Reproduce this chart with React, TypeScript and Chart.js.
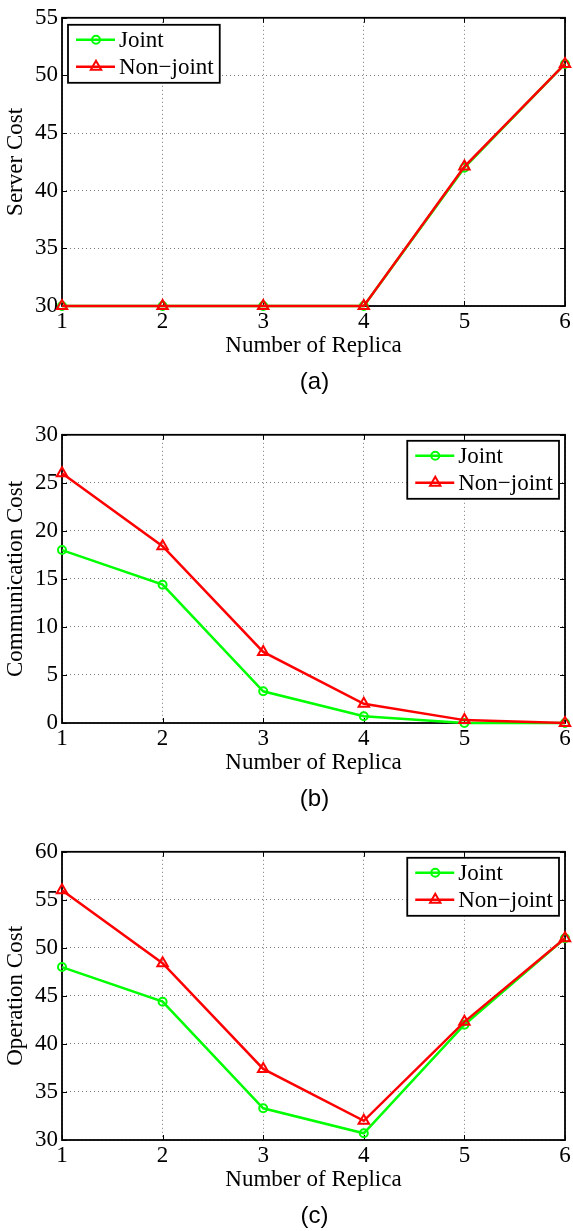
import React, { useEffect, useRef } from "react";
import { Chart, registerables } from "chart.js";
Chart.register(...registerables);

// ---- data ----
const replicas = [1, 2, 3, 4, 5, 6];
const serverJoint = [30, 30, 30, 30, 42, 51];
const serverNonJoint = [30, 30, 30, 30, 42.1, 51];
const commJoint = [18, 14.4, 3.3, 0.7, 0, 0];
const commNonJoint = [26, 18.4, 7.4, 2.0, 0.3, 0];
const opJoint = [48, 44.4, 33.3, 30.7, 42, 51];
const opNonJoint = [56, 48.4, 37.4, 32.0, 42.3, 51];
const serverTicks = [30, 35, 40, 45, 50, 55];
const commTicks = [0, 5, 10, 15, 20, 25, 30];
const opTicks = [30, 35, 40, 45, 50, 55, 60];
const seriesLabels = ["Joint", "Non\u2212joint"];
const xTitle = "Number of Replica";

const SERIF = '"Liberation Serif", "Times New Roman", serif';
const SANS = '"Liberation Sans", Arial, sans-serif';
const GREEN = "#00ff00";
const RED = "#ff0000";

const framePlugin = {
  id: "mframe",
  beforeDatasetsDraw(chart: any) {
    const { ctx, chartArea: a, scales } = chart;
    ctx.save();
    ctx.strokeStyle = "#000";
    ctx.lineWidth = 1.8;
    ctx.strokeRect(a.left, a.top, a.right - a.left, a.bottom - a.top);
    ctx.lineWidth = 1;
    const tl = 5;
    ctx.beginPath();
    scales.x.ticks.forEach((t: any) => {
      const px = Math.round(scales.x.getPixelForValue(t.value)) + 0.5;
      ctx.moveTo(px, a.bottom);
      ctx.lineTo(px, a.bottom - tl);
      ctx.moveTo(px, a.top);
      ctx.lineTo(px, a.top + tl);
    });
    scales.y.ticks.forEach((t: any) => {
      const py = Math.round(scales.y.getPixelForValue(t.value)) + 0.5;
      ctx.moveTo(a.left, py);
      ctx.lineTo(a.left + tl, py);
      ctx.moveTo(a.right, py);
      ctx.lineTo(a.right - tl, py);
    });
    ctx.stroke();
    ctx.restore();
  },
};

function drawMarker(ctx: CanvasRenderingContext2D, style: string, x: number, y: number, r: number) {
  ctx.beginPath();
  if (style === "circle") {
    ctx.arc(x, y, r, 0, Math.PI * 2);
  } else {
    let rad = 0;
    ctx.moveTo(x + Math.sin(rad) * r, y - Math.cos(rad) * r);
    rad += (2 * Math.PI) / 3;
    ctx.lineTo(x + Math.sin(rad) * r, y - Math.cos(rad) * r);
    rad += (2 * Math.PI) / 3;
    ctx.lineTo(x + Math.sin(rad) * r, y - Math.cos(rad) * r);
    ctx.closePath();
  }
  ctx.stroke();
}

const legendPlugin = {
  id: "mlegend",
  afterDraw(chart: any, _args: any, opts: any) {
    const { ctx, chartArea: a } = chart;
    ctx.save();
    ctx.font = `23px ${SERIF}`;
    const dsets = chart.data.datasets;
    let maxW = 0;
    dsets.forEach((d: any) => {
      maxW = Math.max(maxW, ctx.measureText(d.label).width);
    });
    const w = 51 + maxW + 6;
    const h = 58;
    const left = opts.pos === "left" ? a.left + 6 : a.right - 6 - w;
    const top = a.top + (opts.pos === "left" ? 7 : 6);
    ctx.fillStyle = "#fff";
    ctx.fillRect(left, top, w, h);
    ctx.strokeStyle = "#000";
    ctx.lineWidth = 1.8;
    ctx.strokeRect(left, top, w, h);
    dsets.forEach((d: any, i: number) => {
      const cy = top + 15 + i * 27;
      ctx.strokeStyle = d.borderColor;
      ctx.lineWidth = d.borderWidth;
      ctx.beginPath();
      ctx.moveTo(left + 8, cy);
      ctx.lineTo(left + 47, cy);
      ctx.stroke();
      ctx.lineWidth = d.pointBorderWidth;
      drawMarker(ctx, d.pointStyle, left + 28, cy, d.pointRadius);
      ctx.fillStyle = "#000";
      ctx.textBaseline = "middle";
      ctx.textAlign = "left";
      ctx.fillText(d.label, left + 51, cy + 1);
    });
    ctx.restore();
  },
};

type PanelProps = {
  top: number;
  height: number;
  yTitle: string;
  joint: number[];
  nonJoint: number[];
  yTicks: number[];
  legendPos: "left" | "right";
  caption: string;
};

function Panel({ top, height, yTitle, joint, nonJoint, yTicks, legendPos, caption }: PanelProps) {
  const ref = useRef<HTMLCanvasElement>(null);
  useEffect(() => {
    const toPts = (arr: number[]) => replicas.map((x, i) => ({ x, y: arr[i] }));
    const chart = new Chart(ref.current as HTMLCanvasElement, {
      type: "line",
      data: {
        datasets: [
          {
            label: seriesLabels[0],
            data: toPts(joint),
            borderColor: GREEN,
            backgroundColor: "rgba(0,0,0,0)",
            borderWidth: 2.5,
            pointStyle: "circle",
            pointRadius: 4,
            pointBorderWidth: 2,
            pointBorderColor: GREEN,
            pointBackgroundColor: "rgba(0,0,0,0)",
            tension: 0,
            order: 2,
            clip: false,
          } as any,
          {
            label: seriesLabels[1],
            data: toPts(nonJoint),
            borderColor: RED,
            backgroundColor: "rgba(0,0,0,0)",
            borderWidth: 2.5,
            pointStyle: "triangle",
            pointRadius: 6,
            pointBorderWidth: 2,
            pointBorderColor: RED,
            pointBackgroundColor: "rgba(0,0,0,0)",
            tension: 0,
            order: 1,
            clip: false,
          } as any,
        ],
      },
      options: {
        animation: false,
        responsive: false,
        devicePixelRatio: 1,
        events: [],
        layout: { padding: { top: 14, right: 6, left: 0, bottom: height - 306 - 54 } },
        plugins: {
          legend: { display: false },
          tooltip: { enabled: false },
          mlegend: { pos: legendPos },
        } as any,
        scales: {
          x: {
            type: "linear",
            min: replicas[0],
            max: replicas[replicas.length - 1],
            afterFit: (s: any) => {
              s.height = 54;
            },
            ticks: {
              stepSize: 1,
              color: "#000",
              font: { family: SERIF, size: 23 },
              padding: 2,
              maxRotation: 0,
            },
            grid: { color: "#7a7a7a", lineWidth: 1, drawTicks: false },
            border: { display: false, dash: [1, 3] },
            title: {
              display: true,
              text: xTitle,
              color: "#000",
              font: { family: SERIF, size: 23 },
              padding: { top: 0, bottom: 0 },
            },
          },
          y: {
            type: "linear",
            min: yTicks[0],
            max: yTicks[yTicks.length - 1],
            afterFit: (s: any) => {
              s.width = 62;
            },
            ticks: {
              stepSize: yTicks[1] - yTicks[0],
              color: "#000",
              font: { family: SERIF, size: 23 },
              padding: 4,
            },
            grid: { color: "#7a7a7a", lineWidth: 1, drawTicks: false },
            border: { display: false, dash: [1, 3] },
            title: {
              display: true,
              text: yTitle,
              color: "#000",
              font: { family: SERIF, size: 23 },
              padding: { top: 2, bottom: 0 },
            },
          },
        },
      } as any,
      plugins: [framePlugin, legendPlugin],
    });
    return () => chart.destroy();
  }, []);
  return (
    <>
      <canvas
        ref={ref}
        width={573}
        height={height}
        style={{ position: "absolute", left: 0, top, width: 573, height, display: "block" }}
      />
      <div
        style={{
          position: "absolute",
          left: 62,
          width: 505,
          top: top + 381 - 14,
          height: 28,
          lineHeight: "28px",
          textAlign: "center",
          fontFamily: SANS,
          fontSize: 24,
          color: "#000",
        }}
      >
        {caption}
      </div>
    </>
  );
}

export default function App() {
  return (
    <div
      style={{
        position: "absolute",
        left: 0,
        top: 0,
        width: 573,
        height: 1231,
        overflow: "hidden",
        background: "#fff",
      }}
    >
      <Panel top={0} height={417} yTitle="Server Cost" joint={serverJoint} nonJoint={serverNonJoint} yTicks={serverTicks} legendPos="left" caption="(a)" />
      <Panel top={417} height={417} yTitle="Communication Cost" joint={commJoint} nonJoint={commNonJoint} yTicks={commTicks} legendPos="right" caption="(b)" />
      <Panel top={834} height={397} yTitle="Operation Cost" joint={opJoint} nonJoint={opNonJoint} yTicks={opTicks} legendPos="right" caption="(c)" />
    </div>
  );
}
